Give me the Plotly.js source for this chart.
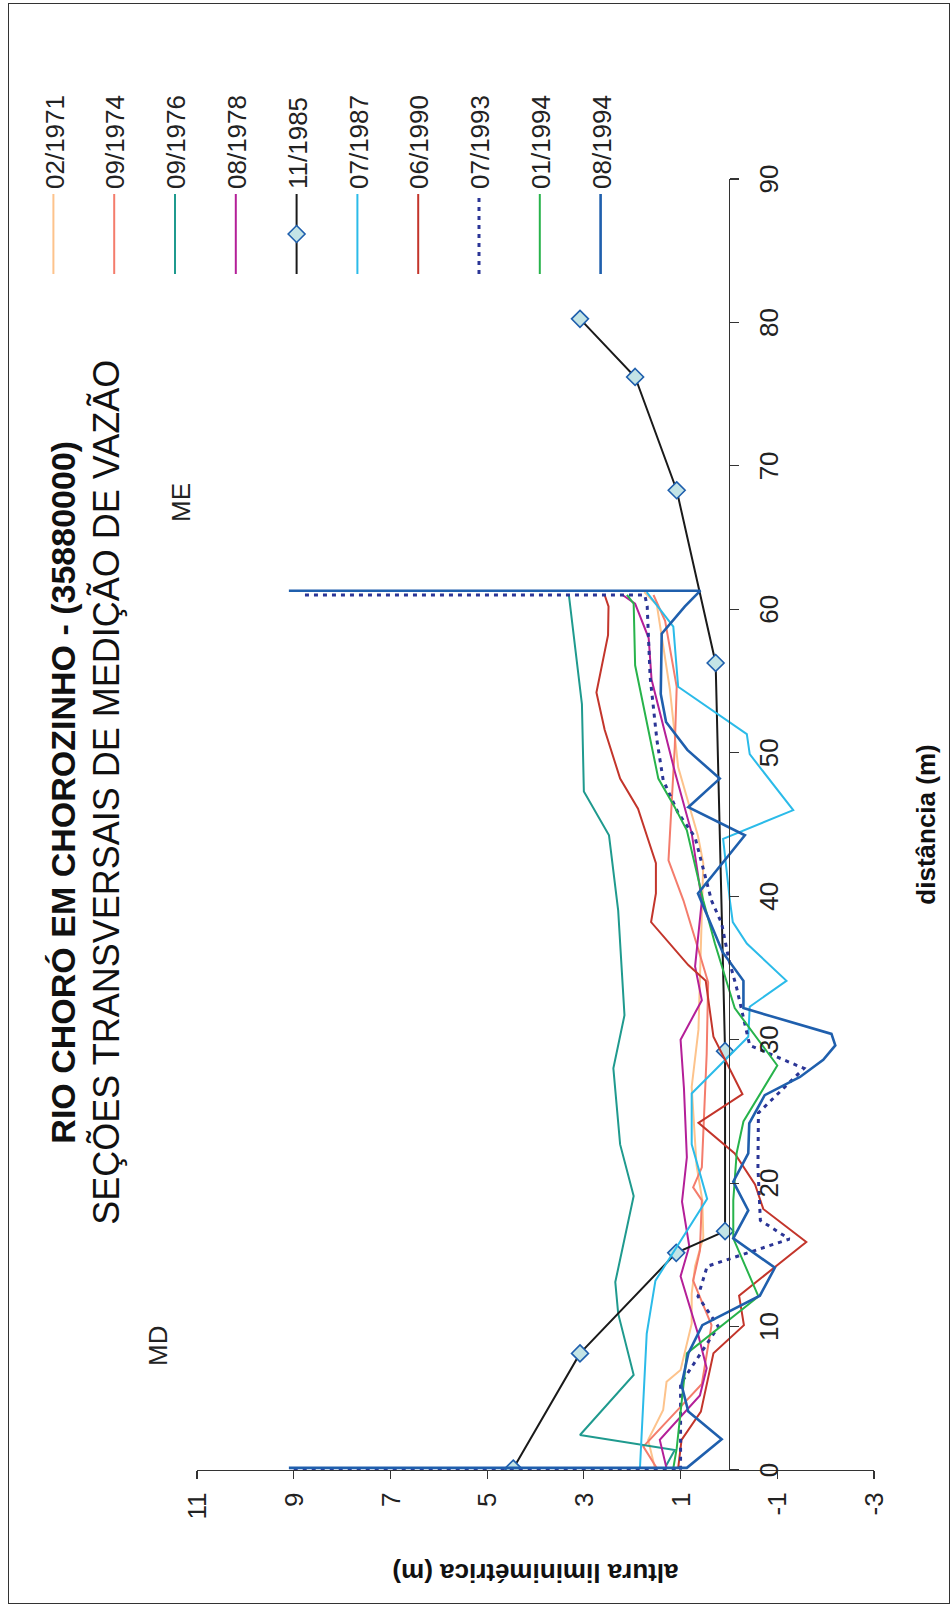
<!DOCTYPE html>
<html><head><meta charset="utf-8">
<script src="https://cdn.plot.ly/plotly-3.0.1.min.js"></script>
<style>
html,body{margin:0;padding:0;background:#fff;width:952px;height:1607px;overflow:hidden;}
#chart{position:absolute;left:0;top:0;width:1607px;height:952px;transform-origin:0 0;transform:translate(0px,1607px) rotate(-90deg);}
#frame{position:absolute;left:8px;top:3px;width:940px;height:1599px;border:1.5px solid #333;pointer-events:none;}
</style></head><body>
<div id="chart"></div>
<div id="frame"></div>
<script>
// ---- data: distância (m) and altura liminimétrica (m) per survey ----
var seriesNames = ["02/1971","09/1974","09/1976","08/1978","11/1985","07/1987","06/1990","07/1993","01/1994","08/1994"];

var d1971 = [0.12, 2.1, 4.18, 6.15, 6.97, 10.2, 12.3, 14.2, 16.2, 18.8, 21.25, 26.7, 30.7, 34.1, 42.3, 44.2, 49.0, 54.4, 60.3, 61.2];
var a1971 = [1.53, 1.67, 1.36, 1.29, 1.0, 0.77, 0.77, 0.70, 0.53, 0.55, 0.67, 0.77, 0.63, 0.6, 0.53, 0.64, 1.05, 1.22, 1.49, 1.75];

var d1974 = [0.12, 1.63, 4.4, 6.0, 10.1, 13.2, 15.3, 18.8, 19.7, 21.1, 29.0, 34.0, 36.7, 39.7, 42.5, 46.7, 50.4, 54.6, 59.2, 61.0];
var a1974 = [1.49, 1.77, 1.0, 0.56, 0.36, 0.74, 0.6, 0.56, 0.74, 0.56, 0.46, 0.43, 0.67, 0.94, 1.25, 1.18, 1.12, 1.08, 1.32, 1.56];

var d1976 = [0.3, 1.4, 2.44, 6.62, 10.9, 13.1, 19.1, 22.7, 28.0, 31.7, 39.0, 44.25, 47.3, 53.4, 61.0];
var a1976 = [1.3, 1.12, 3.08, 1.97, 2.29, 2.35, 1.97, 2.25, 2.39, 2.16, 2.29, 2.48, 3.0, 3.04, 3.31];

var d1978 = [0.12, 2.1, 5.2, 7.1, 9.5, 13.5, 15.6, 18.7, 21.8, 26.6, 30.0, 32.75, 35.1, 39.7, 44.4, 48.7, 55.1, 58.0, 60.4, 61.0];
var a1978 = [1.29, 1.43, 0.6, 0.46, 0.64, 1.0, 0.82, 0.97, 0.87, 0.93, 1.0, 0.56, 0.7, 0.56, 0.77, 1.12, 1.6, 1.66, 1.94, 2.2];

var d1985 = [0.1, 8.13, 15.14, 16.65, 29.2, 56.26, 68.3, 76.2, 80.25];
var a1985 = [4.46, 3.08, 1.09, 0.08, 0.08, 0.275, 1.08, 1.94, 3.08];

var d1987 = [0.12, 9.5, 13.2, 18.9, 22.7, 26.25, 30.2, 32.3, 34.1, 36.7, 38.2, 39.7, 44.0, 46.0, 49.9, 51.3, 54.6, 58.8, 61.2];
var a1987 = [1.84, 1.7, 1.52, 0.45, 0.77, 0.77, -0.4, -0.43, -1.19, -0.37, -0.08, -0.02, 0.12, -1.33, -0.43, -0.37, 1.05, 1.15, 1.7];

var d1990 = [0.12, 2.1, 4.07, 5.92, 8.13, 10.1, 12.15, 15.9, 18.2, 19.9, 22.07, 24.2, 26.2, 30.2, 34.1, 35.2, 38.2, 40.2, 42.3, 44.25, 46.1, 48.2, 51.6, 54.2, 58.2, 60.2, 61.0];
var a1990 = [1.05, 0.98, 0.58, 0.46, 0.32, -0.31, -0.21, -1.6, -0.71, -0.54, -0.12, 0.63, -0.28, 0.32, 0.48, 0.84, 1.61, 1.51, 1.51, 1.7, 1.88, 2.25, 2.57, 2.74, 2.5, 2.49, 2.57];

var d1993 = [0, 0, 6.0, 10.0, 12.1, 14.2, 16.1, 17.4, 21.1, 24.9, 28.0, 29.6, 33.6, 35.7, 38.1, 39.7, 44.1, 45.8, 48.1, 50.9, 55.3, 58.1, 60.2, 61.0, 61.0];
var a1993 = [9.0, 1.0, 1.0, 0.22, 0.64, 0.45, -1.25, -0.65, -0.6, -0.61, -1.55, -0.43, -0.16, 0.01, 0.15, 0.36, 0.7, 1.05, 1.36, 1.49, 1.63, 1.67, 1.69, 1.74, 8.84];

var d1994a = [0.12, 1.5, 8.13, 12.1, 16.15, 18.8, 22.1, 24.3, 28.2, 32.2, 36.7, 39.7, 44.6, 46.2, 48.2, 56.1, 60.4, 61.0];
var a1994a = [1.15, 1.08, 0.87, -0.61, -0.09, -0.09, -0.16, -0.3, -1.0, -0.12, 0.29, 0.53, 0.87, 1.12, 1.46, 1.94, 1.97, 2.11];

var d1994b = [0.15, 0.15, 2.14, 4.07, 5.92, 8.13, 10.1, 12.15, 14.1, 16.15, 18.1, 20.1, 22.07, 24.16, 26.13, 27.4, 28.6, 29.6, 30.4, 32.2, 34.1, 36.1, 40.2, 44.25, 46.2, 48.2, 50.2, 52.15, 54.1, 58.3, 60.2, 61.3, 61.3];
var a1994b = [9.1, 0.87, 0.15, 0.84, 0.98, 0.84, 0.55, -0.64, -0.95, -0.09, -0.4, -0.09, -0.4, -0.42, -0.74, -1.47, -1.95, -2.2, -2.12, -0.3, -0.3, 0.13, 0.64, -0.33, 0.84, 0.19, 0.86, 1.3, 1.41, 1.39, 0.91, 0.59, 9.1];

var xTicks = [0,10,20,30,40,50,60,70,80,90];
var yTicks = [-3,-1,1,3,5,7,9,11];

// ---- styles ----
var FONT = "Liberation Sans, Arial, Helvetica, sans-serif";
var styles = [
  {color:"#fdc38c", width:2},
  {color:"#f47c6c", width:2},
  {color:"#1f9a8e", width:2},
  {color:"#b41f98", width:2},
  {color:"#1a1a1a", width:2},
  {color:"#2bbbe9", width:2},
  {color:"#c3352b", width:2},
  {color:"#2b3596", width:3, dash:"4px,5px"},
  {color:"#27b34b", width:2},
  {color:"#1f5fad", width:2.6}
];
var xs = [d1971,d1974,d1976,d1978,d1985,d1987,d1990,d1993,d1994a,d1994b];
var ys = [a1971,a1974,a1976,a1978,a1985,a1987,a1990,a1993,a1994a,a1994b];

var traces = [];
for (var i = 0; i < seriesNames.length; i++) {
  var t = {
    type:"scatter", x:xs[i], y:ys[i], name:seriesNames[i], legendgroup:"g"+i,
    mode:"lines", line:styles[i], hoverinfo:"skip"
  };
  if (seriesNames[i] === "11/1985") {
    t.mode = "lines+markers";
    t.marker = {symbol:"diamond", size:13, color:"#c3e4e6", line:{color:"#1f5fad", width:1.6}};
  }
  traces.push(t);
}

var axisCommon = {showgrid:false, zeroline:false, linecolor:"#333", linewidth:1.2, tickcolor:"#333", tickwidth:1.2, automargin:false};

var layout = {
  width:1607, height:952,
  margin:{l:137, r:178.5, t:196.6, b:77.8, pad:0, autoexpand:false},
  paper_bgcolor:"rgba(0,0,0,0)", plot_bgcolor:"rgba(0,0,0,0)",
  font:{family:FONT, size:26, color:"#222"},
  title:{
    text:"<b>RIO CHORÓ EM CHOROZINHO - (35880000)</b><br><span style=\"font-size:36px\">SEÇÕES TRANSVERSAIS DE MEDIÇÃO DE VAZÃO</span>",
    font:{family:FONT, size:34, color:"#111"},
    x:0.507, xref:"container", xanchor:"center",
    y:1-75/952, yref:"container", yanchor:"middle"
  },
  showlegend:true,
  legend:{
    x:1328/1607, xref:"container", xanchor:"left",
    y:1-30/952, yref:"container", yanchor:"top",
    font:{family:FONT, size:26, color:"#222"},
    itemwidth:80, tracegroupgap:24, maxheight:940,
    bgcolor:"rgba(0,0,0,0)", borderwidth:0
  },
  xaxis:Object.assign({}, axisCommon, {
    range:[0,90], anchor:"free", position:3/14,
    showline:true, ticks:"outside", ticklen:9,
    tickmode:"array", tickvals:xTicks, ticktext:xTicks.map(String),
    tickfont:{family:FONT, size:26, color:"#222"}, ticklabelstandoff:8,
    title:{text:"<b>distância (m)</b>", standoff:133, font:{family:FONT, size:26, color:"#111"}}
  }),
  xaxis2:Object.assign({}, axisCommon, {
    overlaying:"x", range:[0,90], anchor:"free", position:3/14,
    showline:false, ticks:"inside", ticklen:9, tickmode:"array", tickvals:xTicks, showticklabels:false
  }),
  yaxis:Object.assign({}, axisCommon, {
    range:[-3,11], showline:true, ticks:"outside", ticklen:8,
    tickmode:"array", tickvals:yTicks, ticktext:yTicks.map(function(v){return String(v);}),
    tickfont:{family:FONT, size:26, color:"#222"}, ticklabelstandoff:8,
    title:{text:"<b>altura liminimétrica (m)</b>", standoff:36, font:{family:FONT, size:26, color:"#111"}}
  }),
  yaxis2:Object.assign({}, axisCommon, {
    overlaying:"y", range:[-3,11], showline:false, ticks:"inside", ticklen:8,
    tickmode:"array", tickvals:yTicks, showticklabels:false
  }),
  annotations:[
    {x:67.46, y:(11.34+3)/14, xref:"x", yref:"paper", xanchor:"center", yanchor:"middle", text:"ME", showarrow:false, font:{family:FONT, size:26, color:"#222"}},
    {x:8.64, y:(11.8+3)/14, xref:"x", yref:"paper", xanchor:"center", yanchor:"middle", text:"MD", showarrow:false, font:{family:FONT, size:26, color:"#222"}}
  ]
};

Plotly.newPlot("chart", traces, layout, {staticPlot:true, displayModeBar:false});
</script>
</body></html>
